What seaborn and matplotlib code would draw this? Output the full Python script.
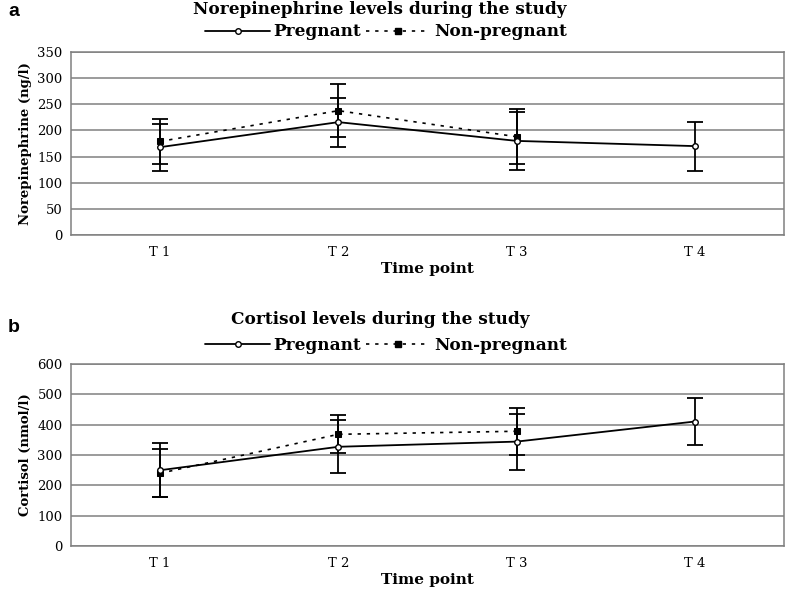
import numpy as np
import pandas as pd
import matplotlib
matplotlib.use("Agg")
import matplotlib.pyplot as plt
from matplotlib.lines import Line2D
import seaborn as sns

# ---- data ----
time_points = ["T 1", "T 2", "T 3", "T 4"]

ne_preg = [168, 216, 180, 170]
ne_preg_sd = [45, 47, 56, 47]
ne_nonpreg = [179, 238, 188]
ne_nonpreg_sd = [43, 51, 53]

cort_preg = [250, 327, 344, 410]
cort_preg_sd = [88, 87, 92, 78]
cort_nonpreg = [240, 368, 378]
cort_nonpreg_sd = [79, 62, 78]

sns.set_theme(style="white")
plt.rcParams["font.family"] = ["DejaVu Serif"]
plt.rcParams["text.color"] = "black"
plt.rcParams["axes.labelcolor"] = "black"
plt.rcParams["xtick.color"] = "black"
plt.rcParams["ytick.color"] = "black"

W, H = 787, 593
fig = plt.figure(figsize=(W / 100, H / 100), dpi=100)


def fx(px):
    return px / W


def fy(py):
    return 1 - py / H


def panel(rect, preg, preg_sd, nonpreg, nonpreg_sd, ymax, ystep, ylabel,
          title, title_y, legend_y, letter, letter_y):
    ax = fig.add_axes(rect)
    df_p = pd.DataFrame({"pos": np.arange(len(preg)), "value": preg})
    df_n = pd.DataFrame({"pos": np.arange(len(nonpreg)), "value": nonpreg})

    ax.errorbar(df_n["pos"], df_n["value"], yerr=nonpreg_sd, fmt="none",
                ecolor="black", elinewidth=1.3, capsize=6, capthick=1.3, zorder=3)
    ax.errorbar(df_p["pos"], df_p["value"], yerr=preg_sd, fmt="none",
                ecolor="black", elinewidth=1.3, capsize=6, capthick=1.3, zorder=3)

    sns.lineplot(data=df_n, x="pos", y="value", ax=ax, color="black",
                 linewidth=1.2, linestyle=(0, (2, 3.5)), marker="s",
                 markersize=5, markerfacecolor="black",
                 markeredgecolor="black", zorder=4)
    sns.lineplot(data=df_p, x="pos", y="value", ax=ax, color="black",
                 linewidth=1.3, marker="o", markersize=4,
                 markerfacecolor="white", markeredgecolor="black",
                 markeredgewidth=1.0, zorder=5)

    ax.set_xlim(-0.5, len(time_points) - 0.5)
    ax.set_ylim(0, ymax)
    ax.set_yticks(np.arange(0, ymax + 1, ystep))
    ax.set_xticks(np.arange(len(time_points)))
    ax.set_xticklabels(time_points)
    ax.set_xticks(np.arange(len(time_points) - 1) + 0.5, minor=True)
    ax.tick_params(axis="x", which="major", length=0, pad=8, labelsize=9.5)
    ax.tick_params(axis="x", which="minor", length=3, direction="in",
                   color="#808080", width=1)
    ax.tick_params(axis="y", length=0, pad=6, labelsize=9.5)
    ax.yaxis.grid(True, color="#808080", linewidth=1.1)
    ax.xaxis.grid(False)
    ax.set_axisbelow(True)
    for s in ax.spines.values():
        s.set_color("#808080")
        s.set_linewidth(1.1)
    ax.set_xlabel("Time point", fontweight="bold", fontsize=11, labelpad=2)
    ax.set_ylabel(ylabel, fontweight="bold", fontsize=9.5, labelpad=4)

    fig.text(fx(380), fy(title_y), title, ha="center", va="center",
             fontweight="bold", fontsize=12.2)
    handles = [
        Line2D([], [], color="black", lw=1.3, marker="o", markersize=4,
               markerfacecolor="white", markeredgecolor="black"),
        Line2D([], [], color="black", lw=1.2, linestyle=(0, (2, 3.5)),
               marker="s", markersize=5, markerfacecolor="black"),
    ]
    fig.legend(handles, ["Pregnant", "Non-pregnant"], loc="center",
               bbox_to_anchor=(fx(386), fy(legend_y)), ncol=2, frameon=False,
               handlelength=3.8, handletextpad=0.2, columnspacing=0.3,
               prop={"family": "DejaVu Serif", "weight": "bold", "size": 12.2})
    fig.text(fx(8), fy(letter_y), letter, ha="left", va="center",
             fontweight="bold", fontsize=14,
             family=["Liberation Sans Narrow", "Liberation Sans", "DejaVu Sans"])
    return ax


# panel a: axes from x 71..784, y 52.3..234.7
panel([fx(71), fy(234.7), fx(784) - fx(71), fy(52.3) - fy(234.7)],
      ne_preg, ne_preg_sd, ne_nonpreg, ne_nonpreg_sd, 350, 50,
      "Norepinephrine (ng/l)", "Norepinephrine levels during the study",
      10, 32, "a", 11)

# panel b: axes y 363.7..546.3
panel([fx(71), fy(546.3), fx(784) - fx(71), fy(363.7) - fy(546.3)],
      cort_preg, cort_preg_sd, cort_nonpreg, cort_nonpreg_sd, 600, 100,
      "Cortisol (nmol/l)", "Cortisol levels during the study",
      319, 345, "b", 327)

fig.savefig("out.png", dpi=100)
